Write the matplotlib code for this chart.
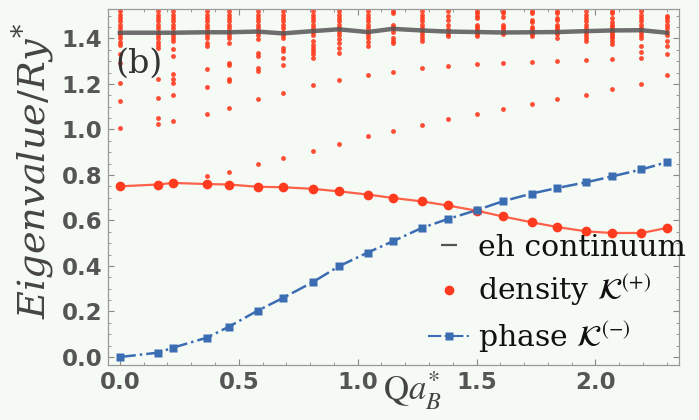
import numpy as np
import matplotlib.pyplot as plt
from matplotlib.lines import Line2D
from matplotlib.ticker import MultipleLocator

plt.rcParams['mathtext.fontset'] = 'stix'

# momentum values Q a_B^*
q = [0.0, 0.16, 0.223, 0.366, 0.458, 0.58, 0.685, 0.811, 0.92, 1.042, 1.147,
     1.269, 1.378, 1.5, 1.609, 1.731, 1.84, 1.962, 2.071, 2.193, 2.30]

# lowest density (K+) eigenvalue
density = [0.75, 0.758, 0.765, 0.76, 0.758, 0.748, 0.746, 0.739, 0.728, 0.714, 0.699,
           0.684, 0.666, 0.643, 0.618, 0.592, 0.571, 0.552, 0.545, 0.545, 0.567]

# phase (K-) eigenvalue
phase = [0.0, 0.019, 0.041, 0.085, 0.133, 0.204, 0.259, 0.329, 0.398, 0.459, 0.508,
         0.567, 0.606, 0.645, 0.684, 0.718, 0.743, 0.768, 0.794, 0.824, 0.856]

# electron-hole continuum edge
continuum = [1.425, 1.425, 1.425, 1.427, 1.427, 1.43, 1.422, 1.432, 1.44, 1.428, 1.442,
             1.435, 1.43, 1.428, 1.426, 1.427, 1.428, 1.432, 1.435, 1.436, 1.425]

# higher density eigenvalues at every Q (small dots)
upper_modes = [
    [1.52, 1.505, 1.49, 1.475, 1.46, 1.445, 1.43, 1.415, 1.40, 1.385, 1.37, 1.33, 1.29, 1.206, 1.125, 1.007],
    [1.52, 1.505, 1.49, 1.475, 1.46, 1.445, 1.43, 1.415, 1.40, 1.385, 1.37, 1.36, 1.22, 1.137, 1.05, 1.022],
    [1.52, 1.505, 1.49, 1.475, 1.46, 1.445, 1.43, 1.415, 1.40, 1.389, 1.352, 1.323, 1.242, 1.223, 1.206, 1.151, 1.037],
    [1.52, 1.505, 1.49, 1.475, 1.46, 1.445, 1.43, 1.415, 1.40, 1.381, 1.367, 1.267, 1.188, 1.066, 0.797],
    [1.52, 1.505, 1.49, 1.475, 1.46, 1.445, 1.43, 1.415, 1.40, 1.381, 1.293, 1.285, 1.223, 1.213, 1.096, 0.813],
    [1.52, 1.505, 1.49, 1.475, 1.46, 1.445, 1.43, 1.415, 1.396, 1.337, 1.323, 1.271, 1.257, 1.135, 0.849],
    [1.52, 1.505, 1.49, 1.475, 1.46, 1.445, 1.43, 1.415, 1.40, 1.36, 1.345, 1.316, 1.282, 1.161, 0.875],
    [1.52, 1.505, 1.49, 1.475, 1.46, 1.445, 1.43, 1.415, 1.39, 1.37, 1.36, 1.345, 1.33, 1.316, 1.194, 0.907],
    [1.52, 1.505, 1.49, 1.475, 1.46, 1.445, 1.43, 1.415, 1.396, 1.38, 1.36, 1.337, 1.216, 0.937],
    [1.52, 1.505, 1.49, 1.475, 1.46, 1.445, 1.43, 1.415, 1.40, 1.385, 1.367, 1.239, 0.971],
    [1.52, 1.51, 1.46, 1.45, 1.44, 1.43, 1.40, 1.39, 1.38, 1.252, 0.992],
    [1.52, 1.505, 1.49, 1.475, 1.46, 1.445, 1.43, 1.415, 1.40, 1.389, 1.269, 1.019],
    [1.52, 1.50, 1.48, 1.46, 1.44, 1.42, 1.41, 1.279, 1.044],
    [1.52, 1.51, 1.50, 1.49, 1.46, 1.45, 1.44, 1.43, 1.42, 1.41, 1.289, 1.066],
    [1.52, 1.51, 1.495, 1.46, 1.45, 1.44, 1.43, 1.42, 1.293, 1.091],
    [1.52, 1.51, 1.48, 1.47, 1.45, 1.44, 1.43, 1.42, 1.41, 1.298, 1.11],
    [1.52, 1.51, 1.49, 1.48, 1.46, 1.45, 1.44, 1.43, 1.42, 1.40, 1.302, 1.132],
    [1.52, 1.505, 1.49, 1.475, 1.46, 1.445, 1.43, 1.415, 1.40, 1.39, 1.305, 1.151],
    [1.52, 1.51, 1.49, 1.47, 1.46, 1.45, 1.44, 1.43, 1.42, 1.41, 1.40, 1.39, 1.375, 1.311, 1.176],
    [1.52, 1.505, 1.49, 1.475, 1.46, 1.445, 1.43, 1.415, 1.40, 1.367, 1.34, 1.316, 1.2],
    [1.50, 1.49, 1.475, 1.46, 1.445, 1.43, 1.415, 1.389, 1.367, 1.33, 1.238],
]

red = '#ff3b1f'
blue = '#3b6db3'
bg = '#f6faf4'
tickcol = '#555555'

fig = plt.figure(figsize=(6.99, 4.2), dpi=100, facecolor=bg)
ax = fig.add_axes([0.1545, 0.131, 0.8165, 0.848])
ax.set_facecolor(bg)

# small dots for higher modes
for qi, vals in zip(q, upper_modes):
    ax.plot([qi] * len(vals), vals, 'o', color=red, ms=3.5, mec='none', alpha=0.9, zorder=2)

ax.plot(q, continuum, '-', color='#555555', lw=3.2, alpha=0.85, zorder=3)
ax.plot(q, density, '-', color=red, lw=1.6, alpha=0.8, zorder=4)
ax.plot(q, density, 'o', color=red, ms=7, mec='none', zorder=5)
ax.plot(q, phase, '-.', color=blue, lw=1.8, zorder=4)
ax.plot(q, phase, 's', color=blue, ms=5.8, mec='none', zorder=5)

ax.set_xlim(-0.05, 2.35)
ax.set_ylim(-0.035, 1.53)
ax.xaxis.set_major_locator(MultipleLocator(0.5))
ax.xaxis.set_minor_locator(MultipleLocator(0.1))
ax.yaxis.set_major_locator(MultipleLocator(0.2))
ax.yaxis.set_minor_locator(MultipleLocator(0.05))
ax.tick_params(which='both', direction='in', top=True, right=True, color='#888888',
               labelcolor=tickcol, labelsize=16.5)
ax.tick_params(which='major', length=4, width=0.8, pad=4)
ax.tick_params(which='minor', length=2, width=0.6)
for lab in ax.get_xticklabels() + ax.get_yticklabels():
    lab.set_fontweight('bold')
for s in ax.spines.values():
    s.set_color('#999999')
    s.set_linewidth(0.9)

fig.text(0.047, 0.593, r'$Eigenvalue/Ry^{*}$', fontsize=27.5, color='#444444',
         rotation=90, ha='center', va='center', math_fontfamily='dejavuserif')
ax.text(0.482, -0.012, r'$\mathrm{Q}a_B^{*}$', transform=ax.transAxes, fontsize=25,
        color='#444444', ha='left', va='top')
ax.text(0.08, 1.29, '(b)', fontsize=24, family='DejaVu Serif', color='#333333',
        ha='center', va='center', zorder=6)

handles = [
    Line2D([], [], color='#555555', marker='_', ms=11, mew=1.6, ls='none'),
    Line2D([], [], color=red, marker='o', ms=7, mec='none', ls='none'),
    Line2D([], [], color=blue, marker='s', ms=5.8, mec='none', ls='-.', lw=1.5),
]
labels = ['eh continuum', r'density $\mathcal{K}^{(+)}$', r'phase $\mathcal{K}^{(-)}$']
ax.legend(handles, labels, loc='lower right', bbox_to_anchor=(1.05, -0.03), frameon=False,
          prop={'family': 'DejaVu Serif', 'size': 21.5}, handlelength=1.4, handletextpad=0.3,
          labelspacing=0.38, borderpad=0.2, labelcolor='#111111')

fig.savefig('out.png', dpi=100, facecolor=bg)
